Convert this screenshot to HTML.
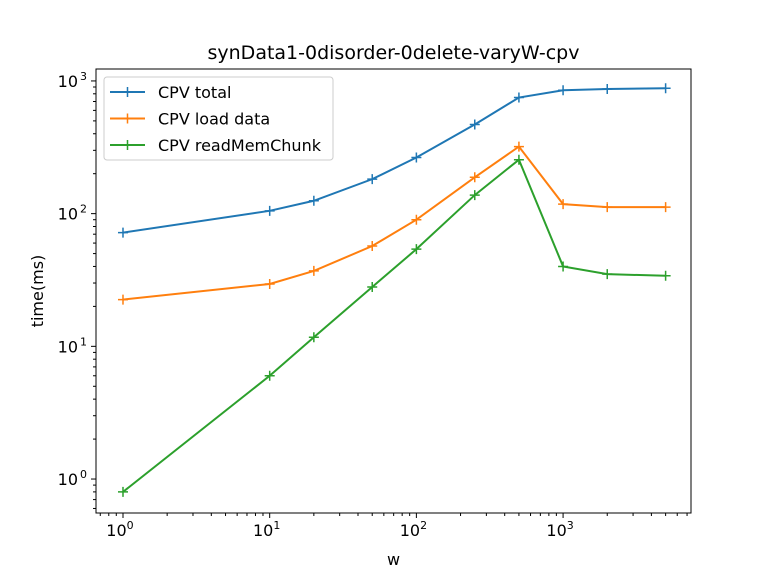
<!DOCTYPE html>
<html><head><meta charset="utf-8"><style>
body{margin:0;background:#fff;}
svg text{font-family:"DejaVu Sans","Liberation Sans",sans-serif;fill:#000;}
</style></head><body>
<svg id="chart" width="768" height="576" xmlns="http://www.w3.org/2000/svg"></svg>
<script>
const xValues=[1,10,20,50,100,250,500,1000,2000,5000];
const totalValues=[72,105,125,182,265,470,750,850,870,880];
const loadValues=[22.5,29.5,37,57,90,188,320,118,112,112];
const readValues=[0.8,6,11.7,28,54,138,255,40,35,34];
const seriesNames=["CPV total","CPV load data","CPV readMemChunk"];
const xTickExps=[0,1,2,3];
const yTickExps=[0,1,2,3];

const svg=document.getElementById('chart');
const NS="http://www.w3.org/2000/svg";
const L=96,R=691,T=69,B=513;
const xmin=-0.184,xmax=3.872,ymin=-0.256,ymax=3.09;
function X(v){return L+(Math.log10(v)-xmin)/(xmax-xmin)*(R-L);}
function Y(v){return B-(Math.log10(v)-ymin)/(ymax-ymin)*(B-T);}
function el(tag,attrs,parent){const e=document.createElementNS(NS,tag);for(const k in attrs)e.setAttribute(k,attrs[k]);(parent||svg).appendChild(e);return e;}

const title=el('text',{x:(L+R)/2,y:59,'text-anchor':'middle','font-size':'19'});


title.textContent='synData1-0disorder-0delete-varyW-cpv';

const colors=['#1f77b4','#ff7f0e','#2ca02c'];
const allSeries=[totalValues,loadValues,readValues];
const names=['series-total','series-load-data','series-read-mem-chunk'];
allSeries.forEach((vals,i)=>{
  const g=el('g',{});
  
  
  const pts=vals.map((v,j)=>X(xValues[j])+','+Y(v)).join(' ');
  el('polyline',{points:pts,fill:'none',stroke:colors[i],'stroke-width':2},g);
  vals.forEach((v,j)=>{
    const x=X(xValues[j]),y=Y(v);
    const m=el('path',{d:`M${x-5},${y}H${x+5}M${x},${y-5}V${y+5}`,stroke:colors[i],'stroke-width':1.5},g);
    
    
  });
});

const frame=el('rect',{x:L,y:T,width:R-L,height:B-T,fill:'none',stroke:'#000','stroke-width':1});



// x ticks
for(let e=-1;e<=3;e++){for(let m=1;m<10;m++){const v=m*Math.pow(10,e);const lv=Math.log10(v);if(lv<xmin||lv>xmax)continue;const x=X(v);el('line',{x1:x,x2:x,y1:B,y2:B+(m==1?5:3),stroke:'#000','stroke-width':1});}}
xTickExps.forEach(e=>{const t=el('text',{x:X(Math.pow(10,e))-3,y:B+23,'text-anchor':'middle','font-size':'16'});t.innerHTML='10<tspan dy="-7" font-size="11">'+e+'</tspan>';});
for(let e=-1;e<=3;e++){for(let m=1;m<10;m++){const v=m*Math.pow(10,e);const lv=Math.log10(v);if(lv<ymin||lv>ymax)continue;const y=Y(v);el('line',{x1:L,x2:L-(m==1?5:3),y1:y,y2:y,stroke:'#000','stroke-width':1});}}
yTickExps.forEach(e=>{const t=el('text',{x:L-8-10,y:Y(Math.pow(10,e))+6,'text-anchor':'end','font-size':'16'});t.innerHTML='10<tspan dy="-7" font-size="11" x="'+(L-9)+'" text-anchor="end">'+e+'</tspan>';});

const xl=el('text',{x:(L+R)/2,y:565,'text-anchor':'middle','font-size':'16'});
xl.textContent='w';
const yl=el('text',{x:0,y:0,'text-anchor':'middle','font-size':'16',transform:`translate(43,${(T+B)/2}) rotate(-90)`});
yl.textContent='time(ms)';

const lg=el('g',{});


el('rect',{x:104,y:77,width:229,height:83,rx:3,fill:'#fff','fill-opacity':0.8,stroke:'#ccc'},lg);
seriesNames.forEach((n,i)=>{
  const y=92+i*26.5;
  const g=el('g',{},lg);
  
  
  el('line',{x1:110,x2:145,y1:y,y2:y,stroke:colors[i],'stroke-width':2},g);
  el('path',{d:`M122,${y}H133M127.5,${y-5}V${y+5}`,stroke:colors[i],'stroke-width':1.5},g);
  const t=el('text',{x:158,y:y+6,'font-size':'16'},g);t.textContent=n;
});
</script>
</body></html>
